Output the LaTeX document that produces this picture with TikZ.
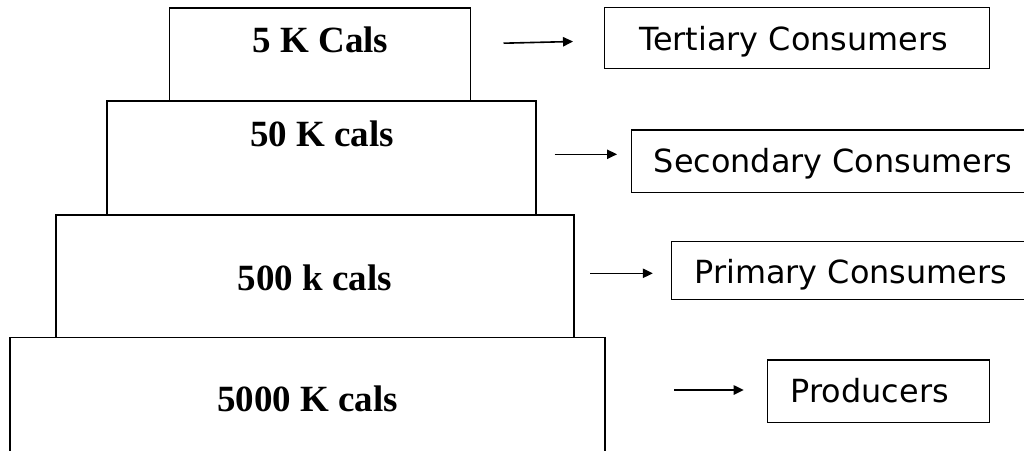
\documentclass[tikz,border=0pt]{standalone}
\usepackage{fontspec}
\setmainfont{Liberation Serif}
\newfontfamily\labelfont{DejaVu Sans}
\usetikzlibrary{arrows.meta}
\tikzset{
  tier/.style={draw=black, line width=1.05pt},
  level/.style={anchor=base, inner sep=0pt, font=\fontsize{27.75}{30}\selectfont\bfseries},
  role/.style={anchor=base west, inner sep=0pt, font=\fontsize{23.9}{26}\selectfont\labelfont},
  arr/.style={line width=1.2pt, -{Triangle[length=7.5pt,width=7pt]}}
}
\begin{document}
\begin{tikzpicture}[x=0.75pt,y=-0.75pt]
\useasboundingbox (0,0) rectangle (1024,450);
\clip (0,0) rectangle (1024,450);
\fill[white] (0,0) rectangle (1024,450);
% pyramid tiers
\draw[tier] (169.5,8) rectangle (470.7,101);
\draw[tier] (107,101) rectangle (535.8,215);
\draw[tier] (56,215) rectangle (574,337.5);
\draw[tier] (10,452) -- (10,337.5) -- (605,337.5) -- (605,452);
% tier labels
\node[level] (l1) at (320.5,52.3) {5 K Cals};
\node[level] (l2) at (322,146) {50 K cals};
\node[level] (l3) at (315,290) {500 k cals};
\node[level] (l4) at (307.5,411.7) {5000 K cals};
% role boxes
\draw[tier] (604.5,7.3) rectangle (989.4,68.3);
\draw[tier] (1030,130) -- (631.3,130) -- (631.3,192.5) -- (1030,192.5);
\draw[tier] (1030,241.7) -- (671.5,241.7) -- (671.5,299.3) -- (1030,299.3);
\draw[tier] (767.3,360) rectangle (989.4,422.7);
% role labels
\node[role] (r1) at (638.9,50.7) {Tertiary Consumers};
\node[role] (r2) at (653.5,172.3) {Secondary Consumers};
\node[role] (r3) at (694.4,283.3) {Primary Consumers};
\node[role] (r4) at (790.6,402.7) {Producers};
% arrows
\coordinate (a1s) at (503.5,43.2);
\coordinate (a1e) at (573,41.5);
\coordinate (a2s) at (554.6,154.3);
\coordinate (a2e) at (617,154.3);
\coordinate (a3s) at (590.3,273.3);
\coordinate (a3e) at (652.8,273.3);
\coordinate (a4s) at (674.3,390);
\coordinate (a4e) at (743.7,390);
\draw[arr] (a1s) -- (a1e);
\draw[arr] (a2s) -- (a2e);
\draw[arr] (a3s) -- (a3e);
\draw[arr] (a4s) -- (a4e);
\end{tikzpicture}
\end{document}
